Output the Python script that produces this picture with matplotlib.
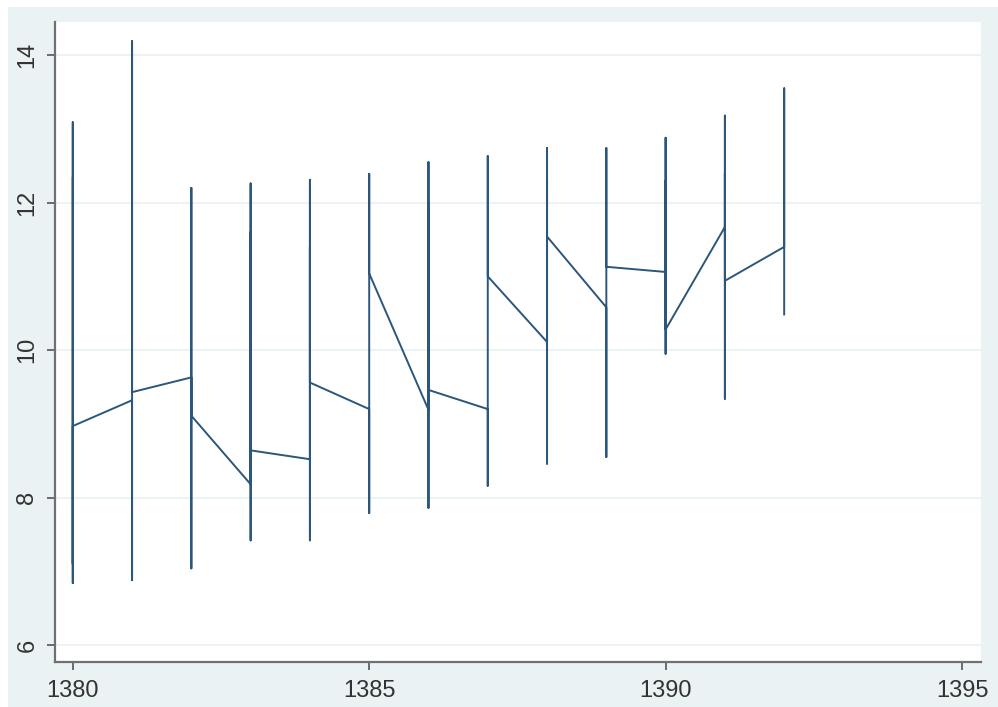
import matplotlib
matplotlib.use("Agg")
import matplotlib.pyplot as plt
from matplotlib.patches import Rectangle

# panel observations, sorted by year (several firms per year)
year = [1380, 1380, 1380, 1380, 1380,
        1381, 1381, 1381, 1381, 1381,
        1382, 1382, 1382, 1382,
        1383, 1383, 1383, 1383, 1383,
        1384, 1384, 1384, 1384, 1384,
        1385, 1385, 1385, 1385,
        1386, 1386, 1386, 1386, 1386,
        1387, 1387, 1387, 1387, 1387,
        1388, 1388, 1388, 1388, 1388,
        1389, 1389, 1389, 1389,
        1390, 1390, 1390, 1390, 1390,
        1391, 1391, 1391, 1391, 1391,
        1392, 1392, 1392]
value = [12.35, 6.84, 13.09, 7.10, 8.97,
         9.32, 6.88, 14.19, 11.05, 9.43,
         9.63, 7.04, 12.20, 9.11,
         8.18, 12.26, 7.42, 11.60, 8.64,
         8.52, 12.31, 7.42, 11.40, 9.56,
         9.20, 7.79, 12.39, 11.04,
         9.19, 12.55, 7.86, 12.00, 9.46,
         9.20, 8.16, 12.63, 11.40, 11.00,
         10.11, 12.74, 8.46, 12.30, 11.54,
         10.58, 8.55, 12.74, 11.13,
         11.06, 12.88, 9.95, 12.30, 10.28,
         11.67, 13.18, 9.34, 12.40, 10.94,
         11.40, 13.55, 10.47]

xticks = [1380, 1385, 1390, 1395]
yticks = [6, 8, 10, 12, 14]

plt.rcParams['font.family'] = ['Liberation Sans', 'DejaVu Sans']

W, H = 998, 707
fig = plt.figure(figsize=(W / 100, H / 100), dpi=100, facecolor='white')

# stata-style light graph region
fig.patches.append(Rectangle((8 / W, 0), (W - 8) / W, (H - 7) / H,
                             transform=fig.transFigure, facecolor='#eaf2f3',
                             edgecolor='none', zorder=-5))

ax = fig.add_axes([55 / W, (H - 662) / H, (981 - 55) / W, (662 - 22) / H])
ax.set_facecolor('white')

ax.plot(year, value, color='#1a476f', lw=1.4, alpha=0.92,
        solid_joinstyle='round', solid_capstyle='butt')

ax.set_xlim(1379.70, 1395.32)
ax.set_ylim(5.77, 14.45)
ax.set_xticks(xticks)
ax.set_yticks(yticks)
ax.set_yticklabels([str(t) for t in yticks], rotation=90, va='center')

for t in yticks:
    ax.axhline(t, color='#eaf2f3', lw=1.3, zorder=0)

for s in ['top', 'right']:
    ax.spines[s].set_visible(False)
for s in ['left', 'bottom']:
    ax.spines[s].set_color('#707070')
    ax.spines[s].set_linewidth(1.6)

ax.tick_params(axis='both', length=6, width=1.2, color='#555555',
               labelsize=17, labelcolor='#333333')
ax.tick_params(axis='x', pad=7)
ax.tick_params(axis='y', pad=6)

fig.savefig('out.png', dpi=100, facecolor='white')
